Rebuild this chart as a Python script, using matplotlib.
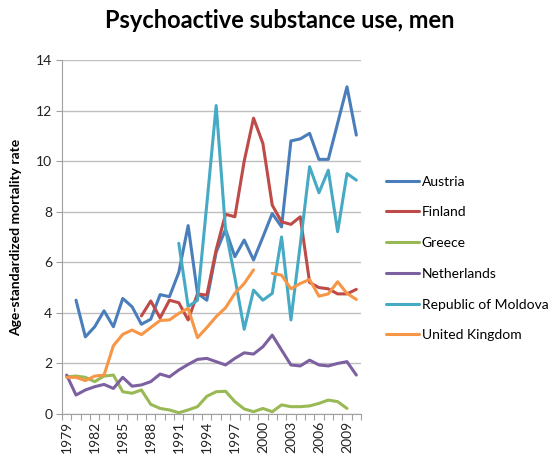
import numpy as np
import matplotlib
matplotlib.use("Agg")
import matplotlib.pyplot as plt
from matplotlib.ticker import FixedLocator

nan = np.nan
years = list(range(1979, 2011))
austria = [nan, 4.5, 3.05, 3.45, 4.08, 3.45, 4.57, 4.24, 3.55, 3.75, 4.72, 4.64, 5.6, 7.45, 4.77, 4.5,
           6.4, 7.3, 6.22, 6.88, 6.09, 7.0, 7.93, 7.4, 10.8, 10.88, 11.1, 10.07, 10.07, 11.5, 12.94, 11.03]
finland = [nan]*8 + [3.88, 4.47, 3.8, 4.5, 4.4, 3.72, 4.75, 4.7, 6.5, 7.9, 7.8, 10.0, 11.7, 10.7, 8.26,
                     7.6, 7.5, 7.8, 5.2, 5.0, 4.95, 4.75, 4.75, 4.93]
greece = [1.47, 1.5, 1.45, 1.28, 1.5, 1.54, 0.88, 0.82, 0.95, 0.38, 0.22, 0.16, 0.05, 0.16, 0.29, 0.7,
          0.88, 0.9, 0.49, 0.2, 0.09, 0.22, 0.09, 0.36, 0.29, 0.29, 0.32, 0.42, 0.55, 0.49, 0.22, nan]
netherlands = [1.54, 0.75, 0.95, 1.08, 1.17, 1.01, 1.45, 1.1, 1.15, 1.28, 1.58, 1.47, 1.74, 1.96, 2.16, 2.2,
               2.07, 1.94, 2.2, 2.42, 2.37, 2.66, 3.12, 2.53, 1.94, 1.9, 2.13, 1.94, 1.9, 2.0, 2.07, 1.54]
moldova = [nan]*12 + [6.75, 4.25, 4.5, 8.3, 12.2, 7.3, 5.4, 3.35, 4.9, 4.5, 4.77, 7.0, 3.72, 6.7,
                      9.78, 8.75, 9.64, 7.21, 9.51, 9.25]
uk = [1.45, 1.45, 1.32, 1.5, 1.54, 2.7, 3.15, 3.32, 3.14, 3.42, 3.7, 3.72, 3.98, 4.18, 3.02, 3.42,
      3.85, 4.2, 4.77, 5.16, 5.7, nan, 5.56, 5.49, 4.95, 5.16, 5.32, 4.66, 4.75, 5.23, 4.77, 4.53]

series = [("Austria", austria, "#4A7EBB"),
          ("Finland", finland, "#BE4B48"),
          ("Greece", greece, "#98B954"),
          ("Netherlands", netherlands, "#7D60A0"),
          ("Republic of Moldova", moldova, "#46AAC5"),
          ("United Kingdom", uk, "#F79646")]

plt.rcParams['font.family'] = ['Lato', 'DejaVu Sans']

fig = plt.figure(figsize=(5.59, 4.58), dpi=100)
ax = fig.add_axes([62/559, 1-414/458, (361-62)/559, (414-60)/458])

x = np.arange(len(years))
for name, vals, col in series:
    ax.plot(x, np.array(vals, dtype=float), color=col, lw=2.2, label=name,
            solid_joinstyle='round', solid_capstyle='round')

ax.set_xlim(-0.5, len(years) - 0.5)
ax.set_ylim(0, 14)
ax.set_yticks(np.arange(0, 15, 2))
ax.yaxis.grid(True, color='#BFBFBF', lw=1)
ax.set_axisbelow(True)

major = list(range(0, len(years), 3))
ax.set_xticks(major)
ax.set_xticklabels([str(years[i]) for i in major], rotation=90, fontsize=10, color='#222222')
ax.xaxis.set_minor_locator(FixedLocator(np.arange(-0.5, len(years), 1)))
ax.tick_params(axis='x', which='major', length=0, pad=5)
ax.tick_params(axis='x', which='minor', length=4, color='#A0A0A0', width=0.8)
ax.tick_params(axis='y', length=4, color='#A0A0A0', width=0.8, labelsize=10, labelcolor='#222222', pad=3)

for s in ['top', 'right']:
    ax.spines[s].set_visible(False)
for s in ['left', 'bottom']:
    ax.spines[s].set_color('#A0A0A0')
    ax.spines[s].set_linewidth(0.8)

ax.set_ylabel("Age-standardized mortality rate", fontsize=10, fontweight='bold', labelpad=10)
fig.text(0.5, 1 - 20/458, "Psychoactive substance use, men", fontsize=17, fontweight='bold',
         ha='center', va='center')

leg = fig.legend(loc='upper left', bbox_to_anchor=(380/559, 1 - 170/458), frameon=False,
                 fontsize=10, handlelength=2.4, handletextpad=0.2, labelspacing=1.35,
                 borderaxespad=0)

fig.savefig("out.png", dpi=100)
